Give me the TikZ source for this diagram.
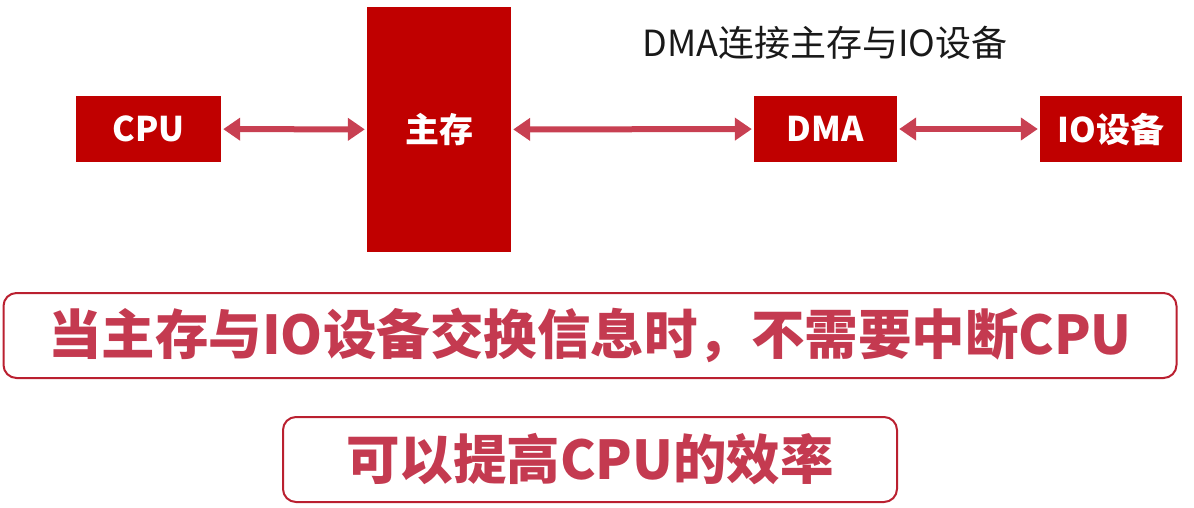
\documentclass[tikz,border=0pt]{standalone}
\usepackage{fontspec}
\setmainfont{Noto Sans CJK SC}
\usetikzlibrary{arrows.meta,positioning}
\definecolor{boxred}{RGB}{192,0,0}
\definecolor{linkred}{RGB}{200,64,82}
\definecolor{notered}{RGB}{196,58,80}
\definecolor{rimred}{RGB}{186,32,48}

\begin{document}
\begin{tikzpicture}[x=1pt, y=-1pt,
  unitbox/.style={fill=boxred, text=white, inner sep=0pt, minimum height=66pt,
    font=\fontsize{34}{40}\selectfont\bfseries},
  linkedge/.style={linkred, line width=6pt, shorten <=2pt, shorten >=2pt,
    {Triangle[length=17pt,width=22pt]}-{Triangle[length=17pt,width=22pt]}},
  notebox/.style={draw=rimred, line width=2pt, rounded corners=13pt, text=notered,
    inner sep=0pt, minimum height=85pt, font=\fontsize{53.5}{60}\selectfont\bfseries}]

\useasboundingbox (0,0) rectangle (1194,508);

\node[unitbox, minimum width=145pt] (cpu) at (148.5,129) {CPU};
\node[unitbox, minimum width=144pt, minimum height=245pt] (mem) at (439,129.5) {主存};
\node[unitbox, minimum width=143pt] (dma) at (825.5,129) {DMA};
\node[unitbox, minimum width=142pt] (io) at (1111,129) {IO设备};

\foreach \a/\b in {cpu/mem,mem/dma,dma/io} {
  \draw[linkedge] (\a) -- (\b);
}

\node[font=\fontsize{36}{42}\selectfont, text=black!90] (title) at (825,43) {DMA连接主存与IO设备};

\node[notebox, minimum width=1173pt] (note1) at (590,335.5) {当主存与IO设备交换信息时，不需要中断CPU};
\node[notebox, minimum width=614pt] (note2) at (590,459.5) {可以提高CPU的效率};

\end{tikzpicture}
\end{document}
